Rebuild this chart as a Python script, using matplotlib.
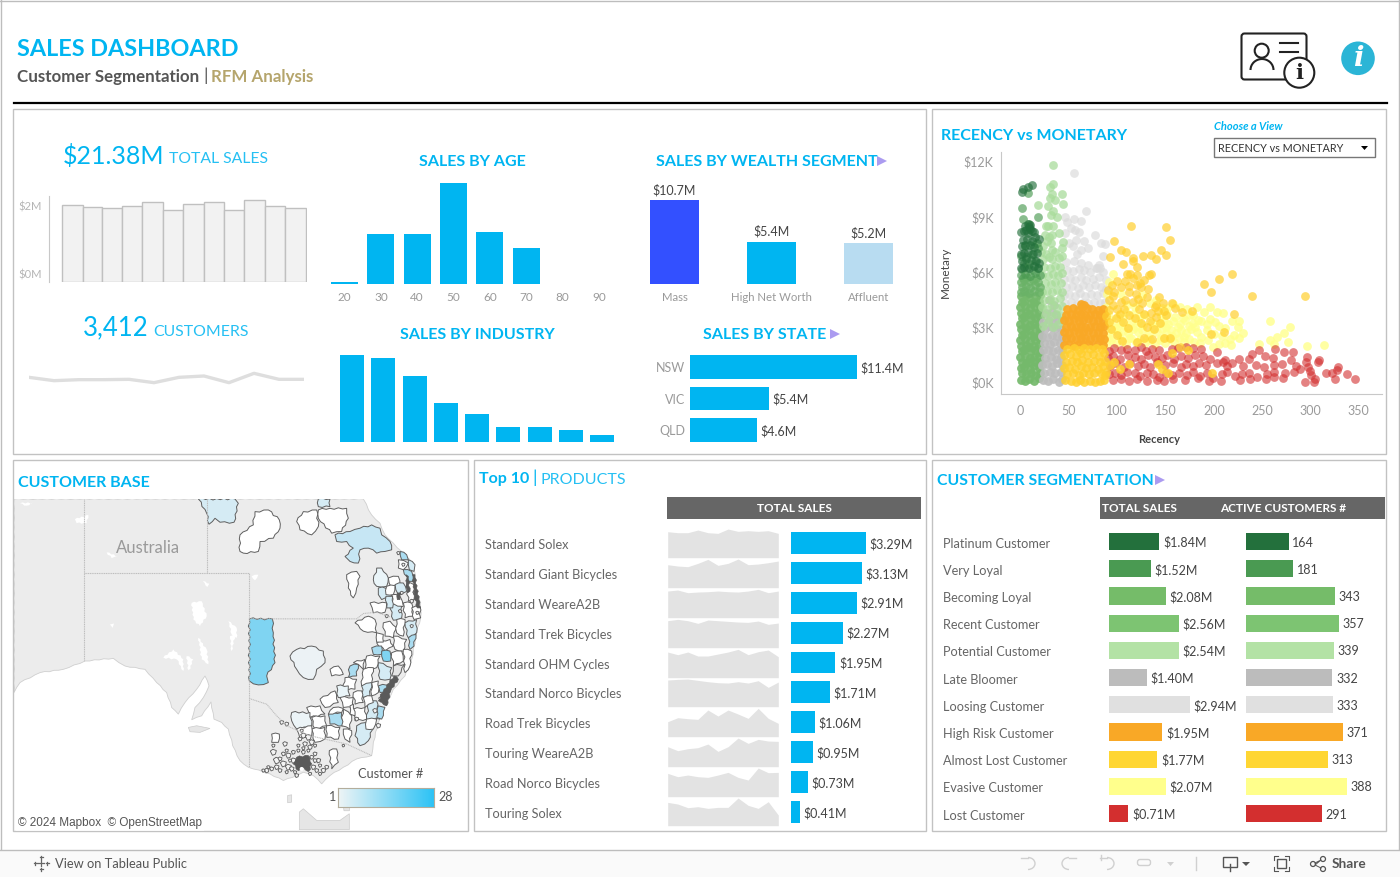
import matplotlib
matplotlib.use("Agg")
import matplotlib.pyplot as plt
import numpy as np
from matplotlib.colors import LinearSegmentedColormap
from matplotlib.patches import Rectangle, Polygon, Circle, FancyBboxPatch, Arc

plt.rcParams['font.family'] = ['Lato', 'DejaVu Sans']

W, H = 1400, 877
BLUE = '#00b5f1'
GREY_TXT = '#666666'
TICK = '#9a9a9a'

# ---------- data ----------
month_days = [31, 28, 31, 30, 31, 30, 31, 31, 30, 31, 30, 31]
month_sales = [1.79, 1.74, 1.72, 1.77, 1.86, 1.67, 1.81, 1.86, 1.67, 1.91, 1.77, 1.72]
month_customers = [288, 278, 281, 281, 282, 272, 288, 292, 272, 300, 282, 282]

ages = [20, 30, 40, 50, 60, 70, 80, 90]
age_sales = [0.15, 3.67, 3.67, 7.42, 3.82, 2.65, 0, 0]

industry_sales = [5.27, 5.09, 4.0, 2.36, 1.7, 0.91, 0.91, 0.73, 0.42]

wealth = ['Mass', 'High Net Worth', 'Affluent']
wealth_sales = [10.7, 5.4, 5.2]
wealth_colors = ['#3350ff', BLUE, '#b8dcf1']

states = ['NSW', 'VIC', 'QLD']
state_sales = [11.4, 5.4, 4.6]

products = ['Standard Solex', 'Standard Giant Bicycles', 'Standard WeareA2B', 'Standard Trek Bicycles',
            'Standard OHM Cycles', 'Standard Norco Bicycles', 'Road Trek Bicycles', 'Touring WeareA2B',
            'Road Norco Bicycles', 'Touring Solex']
product_sales = [3.29, 3.13, 2.91, 2.27, 1.95, 1.71, 1.06, 0.95, 0.73, 0.41]
# monthly shape of each product, read as height inside its row
product_trend = [
    [78, 75, 75, 83, 75, 73, 86, 79, 81, 79, 81, 73],
    [69, 65, 63, 73, 85, 67, 73, 86, 69, 71, 75, 80],
    [80, 83, 75, 77, 78, 80, 78, 77, 80, 85, 75, 80],
    [81, 85, 81, 73, 83, 81, 79, 77, 76, 80, 70, 74],
    [77, 69, 77, 65, 65, 71, 77, 85, 69, 78, 83, 63],
    [80, 82, 83, 79, 75, 72, 71, 75, 71, 78, 58, 74],
    [45, 57, 54, 52, 80, 62, 80, 68, 55, 85, 55, 40],
    [60, 48, 54, 57, 68, 46, 60, 86, 70, 82, 77, 76],
    [70, 60, 65, 60, 58, 65, 73, 58, 50, 86, 72, 73],
    [70, 65, 54, 57, 52, 55, 55, 83, 61, 52, 72, 32],
]

segments = ['Platinum Customer', 'Very Loyal', 'Becoming Loyal', 'Recent Customer', 'Potential Customer',
            'Late Bloomer', 'Loosing Customer', 'High Risk Customer', 'Almost Lost Customer',
            'Evasive Customer', 'Lost Customer']
segment_sales = [1.84, 1.52, 2.08, 2.56, 2.54, 1.40, 2.94, 1.95, 1.77, 2.07, 0.71]
segment_customers = [164, 181, 343, 357, 339, 332, 333, 371, 313, 388, 291]
segment_colors = ['#23703c', '#4a9a52', '#75bc69', '#7dc472', '#b3e2a5', '#bcbcbc', '#e0e0e0',
                  '#f9a826', '#ffd633', '#ffff8c', '#d32f2f']

# recency, monetary ($K)
recent_pts = [(0,.15),(5,.1),(9,.2),(14,.1),(19,.25),(1,.5),(6,.45),(11,.55),(15,.4),(20,.5),
              (0,.8),(4,.85),(10,.75),(14,.9),(19,.8),(1,1.1),(6,1.05),(9,1.15),(15,1.1),(20,1.15),
              (-1,1.4),(5,1.45),(10,1.35),(14,1.4),(19,1.45),(1,1.7),(4,1.75),(11,1.7),(15,1.75),(20,1.65),
              (0,2.0),(6,2.05),(9,1.95),(14,2.0),(19,2.05),(-1,2.3),(5,2.35),(10,2.25),(15,2.3),(20,2.35),
              (1,2.6),(4,2.65),(11,2.6),(14,2.55),(19,2.65),(0,2.9),(6,2.95),(9,2.85),(15,2.95),(20,2.9),
              (-1,3.2),(5,3.25),(10,3.15),(14,3.2),(19,3.25),(1,3.5),(4,3.55),(11,3.45),(15,3.5),(20,3.55),
              (0,3.8),(6,3.85),(9,3.75),(14,3.8),(19,3.85),(-1,4.1),(5,4.15),(10,4.05),(15,4.1),(20,4.15),
              (1,4.4),(4,4.45),(11,4.35),(14,4.4),(19,4.45),(0,4.7),(6,4.75),(9,4.65),(15,4.7),(20,4.75)]
becoming_pts = [(0,4.9),(4,5.0),(9,4.85),(14,5.0),(19,4.95),(1,5.2),(6,5.25),(10,5.15),(15,5.3),(20,5.2),
                (0,5.45),(4,5.55),(9,5.5),(13,5.6),(18,5.45),(2,5.7),(7,5.75),(16,5.7)]
very_loyal_pts = [(0,5.85),(5,5.9),(10,5.8),(15,5.95),(20,5.85),(1,6.15),(7,6.2),(13,6.1),(18,6.25),
                  (3,6.5),(9,6.45),(15,6.6),(0,6.9),(6,6.85),(12,7.0),(18,7.3),(5,7.4),(13,7.5),(17,7.6),
                  (1,9.5),(8,10.3),(2,8.9),(18,9.0),(9,8.6)]
platinum_pts = [(0,6.2),(4,6.3),(9,6.25),(14,6.35),(18,6.2),(1,6.6),(6,6.7),(11,6.65),(16,6.6),(19,6.5),
                (0,7.0),(3,7.05),(8,7.1),(13,7.0),(17,7.05),(1,7.4),(5,7.5),(10,7.45),(14,7.35),
                (2,7.75),(7,7.8),(12,7.7),(15,7.9),(19,7.8),(0,8.2),(3,8.25),(6,8.3),(8,8.15),(10,8.35),
                (12,8.25),(14,8.2),(5,8.5),(8,8.6),(9,8.45),(10,8.55),(2,10.5),(1,10.35),(8,10.6),(12,10.75)]
potential_pts = [(23,3.1),(28,3.3),(34,3.05),(39,3.2),(43,3.4),(25,3.7),(31,3.6),(37,3.75),(42,3.65),
                 (22,4.1),(27,4.0),(33,4.2),(38,4.05),(43,4.15),(24,4.5),(30,4.55),(35,4.45),(41,4.6),
                 (22,4.95),(27,5.0),(33,4.9),(38,5.05),(43,4.95),(25,5.4),(31,5.35),(36,5.45),(42,5.4),
                 (22,5.85),(28,5.8),(34,5.9),(39,5.85),(43,5.95),(24,6.3),(30,6.25),(36,6.35),(41,6.3),
                 (23,6.7),(29,6.8),(33,6.7),(40,6.75),(43,6.9),(21,7.1),(26,7.0),(32,7.2),(36,7.1),(43,7.3),
                 (23,7.4),(27,7.7),(31,7.6),(44,7.65),(25,8.0),(29,7.9),(40,8.1),(26,8.5),(28,8.5),(34,8.5),
                 (31,9.1),(34,9.3),(28,9.6),(44,9.7),(18,9.65),(36,9.9),(30,10.0),(43,10.25),(33,10.25),
                 (34,10.8),(30,10.6),(34,11.8),(38,9.0),(32,8.0)]
late_pts = [(23,.15),(28,.1),(34,.2),(40,.05),(43,.2),(24,.5),(30,.6),(36,.55),(42,.6),(22,.95),(27,1.0),
            (33,.9),(38,1.05),(43,.95),(25,1.35),(31,1.4),(37,1.3),(42,1.4),(23,1.75),(28,1.8),(34,1.7),
            (39,1.8),(43,1.75),(24,2.15),(30,2.1),(35,2.2),(41,2.15),(22,2.55),(27,2.5),(33,2.6),(38,2.55),
            (43,2.5),(25,2.9),(31,3.0),(37,2.95),(42,2.9),(23,3.3),(29,3.4),(34,3.25),(39,3.4),
            (26,3.8),(32,3.85),(37,3.7),(35,4.2),(29,4.5)]
loosing_pts = [(46,4.3),(52,4.4),(58,4.25),(64,4.35),(70,4.3),(76,4.4),(82,4.3),(87,4.4),(45,4.75),(50,4.8),
               (56,4.7),(61,4.85),(67,4.7),(73,4.8),(79,4.75),(85,4.85),(47,5.2),(53,5.25),(59,5.15),
               (65,5.3),(71,5.2),(77,5.3),(83,5.2),(88,5.1),(45,5.65),(51,5.7),(56,5.6),(62,5.75),(68,5.6),
               (75,5.65),(81,5.75),(48,6.1),(54,6.05),(60,6.15),(66,6.1),(72,6.0),(79,6.2),(85,6.0),(88,5.6),
               (47,6.55),(55,6.6),(63,6.5),(70,6.4),(78,6.2),(82,6.2),(58,7.0),(62,7.2),(54,7.4),(70,7.3),
               (50,7.6),(57,7.75),(66,7.7),(56,8.3),(46,8.1),(52,8.4),(60,8.2),(48,8.7),(55,8.9),(62,8.8),
               (46,9.0),(68,9.3),(77,8.0),(83,7.6),(87,7.55),(85,6.9),(81,6.4),(55,11.4)]
high_risk_pts = [(45,2.05),(50,2.1),(55,2.0),(60,2.1),(65,2.05),(70,2.1),(75,2.0),(80,2.1),(85,2.05),
                 (47,2.4),(52,2.45),(57,2.35),(62,2.45),(67,2.4),(72,2.35),(77,2.45),(82,2.4),(86,2.35),
                 (45,2.75),(50,2.7),(55,2.8),(60,2.7),(65,2.75),(70,2.8),(75,2.7),(80,2.75),(85,2.7),
                 (47,3.05),(52,3.1),(57,3.0),(62,3.1),(67,3.05),(72,3.0),(77,3.1),(82,3.05),(86,3.1),
                 (45,3.4),(50,3.35),(55,3.45),(60,3.35),(65,3.4),(70,3.45),(75,3.35),(80,3.4),(85,3.35),
                 (47,3.7),(52,3.75),(57,3.65),(62,3.75),(67,3.7),(72,3.65),(77,3.75),(82,3.7),(86,3.75),
                 (48,4.0),(54,4.05),(59,3.95),(64,4.1),(69,4.05),(74,4.0),(80,3.95),(85,4.0),(62,4.25),(66,4.2)]
almost_pts = [(46,.15),(52,.1),(57,.05),(61,.15),(66,.05),(72,.1),(77,.05),(82,.1),(86,.15),(48,.45),(54,.5),
              (60,.4),(65,.55),(71,.45),(76,.5),(83,.55),(87,.4),(45,.8),(50,.85),(56,.75),(62,.9),(68,.8),
              (74,.85),(80,.75),(85,.9),(47,1.15),(53,1.2),(58,1.1),(64,1.25),(70,1.15),(76,1.2),(82,1.1),
              (87,1.2),(45,1.5),(51,1.55),(57,1.45),(63,1.6),(69,1.5),(75,1.55),(81,1.45),(86,1.6),
              (48,1.85),(55,1.9),(60,1.8),(66,1.9),(72,1.85),(78,1.9),(84,1.85),(93,.95),(97,1.1),(103,.75),
              (112,1.0),(142,1.0),(146,.75),(153,.5),(157,1.6),(173,1.75),(198,.5),(88,.6)]
high_amber_pts = [(92,3.95),(96,4.2),(100,4.0),(91,4.5),(96,4.7),(90,5.05),(104,5.2),(112,5.25),(108,5.5),(116,5.7),
                  (120,5.3),(125,5.2),(128,5.55),(113,5.9),(106,6.45),(116,6.6),(120,6.3),(116,6.75),
                  (93,6.8),(104,7.2),(109,7.1),(97,7.7),(127,6.9),(135,6.95),(140,6.7),(145,7.2),(150,6.95),
                  (155,7.75),(114,8.5),(150,8.45),(135,5.9),(133,5.85),(124,5.4),(119,4.8),(126,4.3),(131,4.65),
                  (139,4.1),(135,3.8),(142,3.9),(148,3.9),(106,3.3),(99,3.5),(94,2.9),(107,4.0),(112,3.65),
                  (118,3.5),(125,3.25),(131,3.0),(140,3.55),(138,2.9),(150,3.7),(157,4.35),(160,4.05),(167,3.85),
                  (177,3.9),(190,5.35),(197,4.95),(205,5.65),(219,5.9),(221,3.75),(240,4.7),(294,4.7),
                  (197,2.65),(211,2.75),(120,2.2),(128,2.4),(88,3.6),(97,4.9),(103,3.75),
                  (108,4.5),(112,4.9),(104,4.4),(116,4.4),(122,4.55),(110,5.9),(120,5.85),(100,5.5),(95,5.3),
                  (128,3.75),(123,4.0),(134,3.35),(144,3.25),(147,4.35),(143,4.65),(132,5.1),(92,3.3),(100,2.6),
                  (111,2.95),(105,2.25),(136,2.35),(148,2.45),(155,2.4),(165,1.95),(140,4.2)]
evasive_pts = [(89,2.1),(94,2.3),(99,2.15),(104,2.35),(109,2.1),(114,2.4),(119,2.2),(124,2.35),(129,2.15),(134,2.3),
               (139,2.1),(144,2.3),(149,2.15),(154,2.35),(159,2.2),(164,2.4),(169,2.2),(174,2.35),(179,2.2),
               (91,2.7),(96,2.85),(101,2.65),(106,2.8),(111,2.7),(116,2.9),(121,2.75),(126,2.85),(133,2.65),
               (141,2.75),(146,2.9),(151,2.7),(156,2.85),(161,2.7),(166,2.85),(171,2.7),(176,2.9),(183,2.75),
               (89,3.2),(94,3.4),(103,3.25),(108,3.1),(114,3.3),(121,3.35),(127,3.15),(136,3.3),(143,3.2),
               (148,3.35),(153,3.2),(158,3.35),(165,3.2),(170,3.4),(178,3.25),(187,3.35),(193,3.2),(201,3.3),
               (90,3.75),(101,3.6),(109,3.85),(116,3.75),(129,3.7),(145,3.6),(152,3.75),(160,3.55),(168,3.5),
               (175,3.7),(184,3.4),(196,3.45),(205,3.1),(212,2.95),(219,3.35),(226,3.35),(199,1.95),
               (158,4.25),(165,4.1),(196,4.1),(203,3.85),(209,3.8),(183,4.1),(92,5.45),(96,5.9),(140,4.5),
               (205,2.1),(212,2.15),(217,2.35),(218,2.05),(226,2.4),(247,2.1),(258,2.3),(262,2.1),(265,2.5),
               (279,3.05),(273,2.7),(277,2.2),(296,2.0),(314,2.05),(258,3.35),(221,2.6),(230,2.7),(225,3.05),
               (92,2.45),(98,3.0),(106,3.5),(112,2.4),(118,3.05),(124,3.6),(131,2.45),(137,2.95),(145,2.45),
               (151,3.05),(157,2.55),(163,3.0),(169,2.5),(174,3.1),(181,3.0),(187,2.5),(193,2.85),(152,4.05),
               (146,4.05),(172,4.0),(178,3.65),(190,3.85),(104,4.8),(110,4.2),(118,4.1),(134,4.3),(126,4.75),
               (88,4.1),(89,4.8),(100,3.0),(194,2.3),(186,2.15),(200,2.65),(208,2.55)]
lost_pts = [(92,1.7),(97,1.9),(104,1.75),(110,1.85),(118,1.8),(125,1.95),(130,1.7),(136,1.85),(143,1.8),(157,1.85),
            (163,1.9),(171,1.95),(178,1.9),(187,1.85),(90,1.35),(96,1.45),(103,1.3),(111,1.5),(118,1.4),
            (125,1.3),(132,1.5),(139,1.4),(146,1.35),(152,1.5),(159,1.3),(166,1.45),(173,1.35),(181,1.5),
            (189,1.45),(196,1.3),(203,1.65),(212,1.25),(226,1.3),(236,1.3),(240,1.55),(247,1.75),(253,1.45),
            (261,1.35),(263,1.85),(273,1.65),(280,1.25),(282,1.65),(296,1.4),(309,1.25),(93,.9),(99,1.05),
            (107,.85),(113,1.05),(121,.9),(128,1.0),(134,.85),(141,1.1),(149,.95),(158,1.05),(166,.85),
            (171,1.0),(178,.9),(185,1.05),(192,.95),(203,1.05),(209,1.15),(214,.9),(219,1.05),(230,.9),
            (244,.95),(252,.85),(262,.95),(271,1.0),(285,.9),(295,1.1),(308,1.15),(91,.45),(98,.55),(104,.4),
            (110,.6),(118,.5),(124,.35),(131,.55),(137,.45),(143,.3),(150,.55),(157,.4),(164,.55),(172,.4),
            (178,.6),(186,.35),(193,.5),(199,.25),(208,.45),(214,.6),(222,.35),(229,.45),(236,.55),(245,.3),
            (255,.45),(262,.6),(274,.5),(283,.6),(289,.75),(298,.85),(301,.4),(316,.55),(322,.55),(328,.7),
            (338,.45),(346,.2),(272,.25),(262,.3),(254,.2),(237,.2),(227,.15),(207,.1),(195,.1),(184,.25),
            (170,.15),(158,.2),(148,.1),(141,.15),(131,.1),(120,.2),(112,.1),(104,.2),(96,.15),(325,.2),
            (305,.2),(294,.05),(304,.05),(329,.85),(300,.65)]

view_ticks_x = [0, 50, 100, 150, 200, 250, 300, 350]
view_ticks_y = [0, 3, 6, 9, 12]

# map shapes, traced on a 3x crop of the panel
land = [(12,117),(1060,117),(1085,165),(1110,190),(1125,225),(1150,250),(1175,275),(1200,300),(1215,340),(1215,380),
        (1232,430),(1232,475),(1220,520),(1205,600),(1185,650),(1150,690),(1125,740),(1105,790),(1090,850),(1085,890),
        (1040,900),(1000,925),(960,950),(935,975),(910,950),(880,940),(860,950),(820,965),(780,945),(730,930),(715,925),
        (690,905),(668,860),(655,810),(635,790),(612,780),(603,728),(575,770),(545,782),(555,745),(580,715),(597,680),
        (585,650),(560,690),(525,730),(505,765),(485,745),(470,700),(440,670),(405,630),(345,620),(310,597),(225,605),
        (160,630),(90,640),(30,670),(12,700)]
islands = [[(535,805),(560,800),(600,808),(570,820),(540,818)],
           [(868,1060),(880,1050),(920,1085),(990,1085),(1018,1065),(1018,1113),(868,1113)],
           [(833,1010),(845,1008),(845,1030),(833,1032)],
           [(1000,1040),(1020,1040),(1018,1056),(1002,1056)]]
salt_lakes = [[(545,430),(575,425),(590,470),(570,500),(550,480)], [(565,535),(590,570),(595,615),(575,600)],
              [(655,485),(680,505),(680,535),(665,525)], [(660,530),(675,530),(665,575)],
              [(460,595),(490,570),(520,600),(520,635),(500,600)], [(530,590),(550,600),(535,640)],
              [(195,178),(235,165),(230,190),(200,190)], [(725,350),(745,345),(735,362)], [(300,495),(312,492),(308,505)],
              [(30,130),(70,128),(50,137)], [(290,278),(325,290),(305,295)], [(578,365),(598,372),(592,382)]]
state_borders = [[(223,117),(223,605)], [(592,117),(592,340)], [(223,340),(718,340),(718,925)],
                 [(718,478),(1040,478),(1060,462),(1100,458),(1140,472)],
                 [(718,718),(770,735),(800,770),(830,800),(900,830),(1010,855),(1085,890)]]
strong_blue = '#7fd4f2'
pale_blue = '#d5ebf4'
mid_blue = '#aadcf0'
white = '#ffffff'
regions = [
    ([(718,478),(787,478),(790,520),(795,610),(770,650),(775,670),(745,677),(718,665)], strong_blue),
    ([(565,117),(675,117),(685,130),(672,187),(630,187),(615,175),(597,193),(590,160)], pale_blue),
    ([(690,275),(690,225),(730,195),(735,155),(775,150),(808,180),(810,205),(790,235),(750,245),(745,275),(700,280)], white),
    ([(860,185),(880,155),(920,150),(925,200),(905,225),(870,210)], white),
    ([(925,150),(960,145),(1010,145),(1015,175),(995,215),(965,220),(925,175)], white),
    ([(975,225),(1020,215),(1050,205),(1085,195),(1110,205),(1115,225),(1140,245),(1145,270),(1125,275),(1100,280),
      (1075,265),(1050,270),(1045,310),(1020,305),(1005,290),(1030,265),(1010,245),(980,245)], '#c6e6f4'),
    ([(925,117),(960,117),(960,140),(925,140)], pale_blue),
    ([(1010,345),(1040,335),(1050,350),(1040,385),(1030,415),(1015,385)], white),
    ([(840,590),(860,570),(905,560),(940,575),(945,610),(920,630),(910,660),(880,655),(860,630)], '#ecf2f5'),
    ([(1100,325),(1115,325),(1135,355),(1130,380),(1100,380),(1090,360)], '#eaf5f9'),
    ([(1105,385),(1140,385),(1145,410),(1115,420),(1105,405)], pale_blue),
    ([(1135,355),(1165,350),(1170,375),(1145,385)], white),
    ([(1170,275),(1190,285),(1195,300),(1175,300)], mid_blue),
    ([(1180,330),(1205,335),(1210,365),(1195,365)], mid_blue),
    ([(1155,375),(1180,370),(1190,395),(1165,405)], pale_blue),
    ([(1145,405),(1170,410),(1180,440),(1150,445)], white),
    ([(1080,430),(1130,430),(1125,458),(1090,460)], white),
    ([(1140,435),(1175,440),(1175,475),(1150,482)], pale_blue),
    ([(1180,430),(1205,430),(1210,470),(1185,475)], white),
    ([(1205,445),(1230,440),(1232,475),(1212,480)], white),
    ([(1120,490),(1140,485),(1160,505),(1150,535),(1125,530)], white),
    ([(1035,490),(1075,470),(1095,480),(1100,520),(1060,515)], white),
    ([(1160,480),(1185,480),(1180,530),(1160,520)], white),
    ([(1185,490),(1220,480),(1220,520),(1195,535)], pale_blue),
    ([(1195,535),(1218,525),(1212,560),(1200,570)], mid_blue),
    ([(1100,550),(1140,540),(1150,560),(1125,575)], white),
    ([(1150,530),(1190,540),(1180,575),(1155,570)], white),
    ([(1085,565),(1115,560),(1115,585),(1090,585)], mid_blue),
    ([(1115,575),(1140,575),(1142,605),(1120,605)], strong_blue),
    ([(1070,590),(1110,590),(1100,625),(1065,630)], white),
    ([(1145,580),(1175,575),(1180,605),(1150,620)], white),
    ([(1180,570),(1205,575),(1200,620),(1185,640)], white),
    ([(1105,610),(1145,625),(1140,660),(1110,660)], pale_blue),
    ([(1020,620),(1045,615),(1040,650),(1015,655)], mid_blue),
    ([(960,630),(985,620),(1000,645),(965,650)], white),
    ([(1060,630),(1090,625),(1085,670),(1055,680)], white),
    ([(1005,655),(1040,660),(1035,690),(1000,690)], white),
    ([(980,680),(1015,680),(1020,710),(985,715)], '#eaf5f9'),
    ([(1055,680),(1085,670),(1080,710),(1060,715)], pale_blue),
    ([(930,720),(975,695),(985,730),(945,745)], white),
    ([(1030,700),(1055,695),(1060,730),(1035,735)], white),
    ([(990,715),(1030,715),(1030,745),(1000,745)], white),
    ([(1030,750),(1065,745),(1070,780),(1035,785)], white),
    ([(1075,730),(1100,725),(1110,780),(1070,780)], pale_blue),
    ([(1105,740),(1125,745),(1115,780),(1100,775)], mid_blue),
    ([(890,745),(930,740),(945,765),(900,775)], white),
    ([(845,760),(900,760),(905,800),(860,810),(845,785)], '#ecf4f7'),
    ([(955,765),(995,760),(1000,800),(960,795)], mid_blue),
    ([(905,775),(945,770),(950,800),(915,810)], white),
    ([(1000,750),(1025,770),(1020,810),(995,800)], white),
    ([(1040,800),(1070,790),(1090,800),(1075,845),(1050,860),(1035,830)], pale_blue),
    ([(1000,810),(1025,815),(1020,850),(1005,840)], white),
    ([(950,800),(990,805),(985,840),(950,835)], white),
    ([(905,810),(945,805),(945,840),(915,850)], white),
    ([(785,825),(808,825),(805,850),(785,850)], white),
    ([(958,875),(980,870),(985,910),(965,930)], white),
    ([(1105,680),(1145,675),(1140,700),(1110,700)], mid_blue),
    ([(1165,300),(1195,310),(1180,330),(1165,325)], white),
    ([(1195,300),(1215,315),(1212,335),(1198,330)], pale_blue),
    ([(1130,380),(1155,378),(1150,405),(1128,405)], white),
    ([(1190,370),(1212,375),(1212,420),(1195,425)], white),
    ([(1128,410),(1148,410),(1148,445),(1130,445)], pale_blue),
    ([(1100,520),(1120,525),(1120,548),(1100,548)], white),
    ([(1085,670),(1105,665),(1105,700),(1085,710)], white),
    ([(1060,715),(1085,710),(1090,730),(1065,745)], white),
    ([(1020,740),(1030,735),(1035,770),(1020,765)], white),
    ([(970,745),(1000,748),(995,760),(955,765)], white),
    ([(1070,780),(1100,780),(1090,810),(1068,810)], white),
    ([(860,810),(905,800),(905,830),(870,840)], white),
    ([(1150,620),(1185,615),(1165,650),(1145,650)], '#e4e4e4'),
    ([(1030,610),(1065,600),(1060,630),(1045,615)], white),
]
dark_strips = [[(1152,650),(1165,660),(1142,695),(1130,740),(1105,725),(1122,690)],
               [(1208,345),(1215,345),(1226,420),(1232,445),(1222,445),(1212,400)],
               [(1188,345),(1195,350),(1200,395),(1192,400)], [(1162,400),(1172,400),(1170,420),(1162,420)],
               [(860,895),(895,890),(905,915),(895,938),(880,925),(865,935),(850,915)]]
# small suburbs: centre x, centre y, size
suburbs = [(790,880,9),(800,905,10),(825,855,7),(835,890,8),(770,935,7),(785,930,6),(800,925,7),(820,915,9),(835,925,9),
           (850,905,8),(845,930,7),(925,905,7),(940,935,7),(950,925,6),(860,950,6),(880,830,8),(895,835,9),(905,850,8),
           (885,855,7),(870,840,6),(900,865,7),(815,790,6),(830,795,6),(1040,780,6),(1115,720,9),(1095,755,7),(1105,800,7),
           (910,925,7),(920,935,6),(905,895,6),(915,885,6),(930,920,5),(820,885,6),(810,900,6),(830,875,5),(850,880,6),
           (865,875,5),(880,880,6),(775,925,5),(760,935,5),(810,935,6),(830,940,5),(855,940,5),(900,945,5),(930,945,5),
           (915,905,6),(840,905,5),(865,860,5),(880,868,5),(895,875,5),(915,860,5),(875,815,5),(1000,860,4),(790,860,5),
           (1165,280,5),(1180,315,5),(1215,400,6),(1205,425,6),(1222,460,5),(1130,470,5),(1175,400,5),(1170,455,5),(1205,500,5)]
legend_range = [1, 28]
wiggle = [2.5, -3, 1.5, -2, 3, -1.5, 2, -2.5]

# ---------- layout ----------
fig = plt.figure(figsize=(W / 100, H / 100), dpi=100, facecolor='white')


def px_axes(x0, y0, x1, y1):
    # axes placed by screen pixels (y counted from the top)
    a = fig.add_axes([x0 / W, 1 - y1 / H, (x1 - x0) / W, (y1 - y0) / H])
    a.patch.set_alpha(0)
    for s in a.spines.values():
        s.set_visible(False)
    a.tick_params(length=0)
    a.set_xticks([])
    a.set_yticks([])
    return a


def rough(shape, amp=1.0, step=11):
    # break straight edges so that traced borders do not look like polygons
    out = []
    k = 0
    n = len(shape)
    for i in range(n):
        (x0, y0), (x1, y1) = shape[i], shape[(i + 1) % n]
        length = np.hypot(x1 - x0, y1 - y0)
        parts = max(1, int(length // step))
        for j in range(parts):
            t = j / parts
            off = wiggle[k % len(wiggle)] * amp if j else 0
            k += 1
            out.append((x0 + (x1 - x0) * t - (y1 - y0) / max(length, 1) * off,
                        y0 + (y1 - y0) * t + (x1 - x0) / max(length, 1) * off))
    return out


page = fig.add_axes([0, 0, 1, 1], zorder=20)
page.set_xlim(0, W)
page.set_ylim(H, 0)
page.axis('off')


def txt(x, y, s, size=9, color=GREY_TXT, weight='normal', ha='left', **kw):
    return page.text(x, y, s, fontsize=size, color=color, fontweight=weight, ha=ha, va='center', **kw)


def frame(x0, y0, x1, y1):
    page.add_patch(Rectangle((x0, y0), x1 - x0, y1 - y0, fill=False, ec='#c2c2c2', lw=1))


def arrow(x, y):
    page.add_patch(Polygon([(x, y - 5), (x + 10, y), (x, y + 5)], color='#ab9bf0', lw=0))


# page edges and tool bar
page.add_patch(Rectangle((0, 850), W, 27, fc='#fafafa', ec='none'))
page.plot([0, W], [849.5, 849.5], color='#bdbdbd', lw=1)
page.plot([0.5, 0.5], [0, 849], color='#bdbdbd', lw=1)
page.plot([0, W], [0.5, 0.5], color='#bdbdbd', lw=1)
page.plot([W - 1, W - 1], [0, 849], color='#bdbdbd', lw=1)
page.plot([13.5, 1386.5], [103, 103], color='black', lw=1.6)
frame(13, 109, 926, 454)
frame(932, 109, 1386, 454)
frame(13, 460, 468, 831)
frame(474, 460, 926, 831)
frame(932, 460, 1386, 831)

# header
txt(17, 50, 'SALES DASHBOARD', 16.8, BLUE, 'bold')
txt(17, 77, 'Customer Segmentation', 12.2, '#555555', 'bold')
txt(203, 76, '|', 13, '#555555')
txt(211, 77, 'RFM Analysis', 12.2, '#b5a56c', 'bold')

# id card and info icons
page.add_patch(FancyBboxPatch((1243, 35), 62, 43, boxstyle='round,pad=1.5,rounding_size=3', fc='white', ec='#222222', lw=1.5))
page.add_patch(Circle((1261.7, 50.7), 7, fc='white', ec='#222222', lw=1.5))
page.add_patch(Arc((1262, 70), 23, 22, theta1=180, theta2=360, ec='#222222', lw=1.5))
page.plot([1280, 1298], [43.3, 43.3], color='#222222', lw=1.5)
page.plot([1280, 1298], [51.7, 51.7], color='#222222', lw=1.5)
page.add_patch(Circle((1299.3, 72.7), 15, fc='white', ec='#222222', lw=1.5))
page.text(1299.3, 73, 'i', fontsize=15, family='DejaVu Serif', weight='bold', ha='center', va='center', color='#222222')
page.add_patch(Circle((1358, 58.3), 16.8, fc='#2bb5d6', ec='none'))
page.text(1358, 58.5, 'i', fontsize=20, family='DejaVu Serif', style='italic', weight='bold', color='white', ha='center', va='center')

# ---------- first panel ----------
txt(63, 156, '$21.38M', 18, BLUE)
txt(169, 159, 'TOTAL SALES', 11.3, BLUE, alpha=0.85)
month_ax = px_axes(49.4, 196, 306.5, 281.7)
month_starts = np.cumsum([0] + month_days[:-1])
month_ax.bar(month_starts, month_sales, width=month_days, align='edge', fc='#f2f2f2', ec='#c0c0c0', lw=1)
month_ax.set_xlim(-19.3, 366)
month_ax.set_ylim(0, 2)
month_ax.spines['left'].set_visible(True)
month_ax.spines['left'].set_color('#c8c8c8')
txt(42, 206.5, '$2M', 8, '#b5b5b5', ha='right')
txt(42, 274.5, '$0M', 8, '#b5b5b5', ha='right')

txt(83, 328, '3,412', 18.5, BLUE)
txt(153, 331.5, 'CUSTOMERS', 11.4, BLUE, alpha=0.85)
line_ax = px_axes(29, 360, 304, 400)
line_ax.plot(range(12), month_customers, color='#dedede', lw=2.4)
line_ax.set_xlim(0, 11)
line_ax.set_ylim(220, 340)

txt(472, 161.5, 'SALES BY AGE', 11.5, BLUE, 'bold', ha='center')
age_ax = px_axes(326, 180, 612, 284)
age_ax.bar(ages, age_sales, width=7.4, color=BLUE)
age_ax.set_xlim(14.9, 93.6)
age_ax.set_ylim(0, 7.65)
age_ax.set_xticks(ages)
age_ax.tick_params(axis='x', labelsize=8.5, labelcolor=TICK, pad=6)

txt(477.5, 335, 'SALES BY INDUSTRY', 11.5, BLUE, 'bold', ha='center')
ind_ax = px_axes(335, 350, 620, 442)
ind_ax.bar(range(len(industry_sales)), industry_sales, width=0.768, color=BLUE)
ind_ax.set_xlim(-0.544, 8.576)
ind_ax.set_ylim(0, 5.57)

txt(767, 161.5, 'SALES BY WEALTH SEGMENT', 11.5, BLUE, 'bold', ha='center')
arrow(877, 161)
wealth_ax = px_axes(635, 190, 905, 284)
wealth_ax.bar(range(3), wealth_sales, width=0.505, color=wealth_colors)
wealth_ax.set_xlim(-0.407, 2.376)
wealth_ax.set_ylim(0, 11.97)
wealth_ax.set_xticks(range(3), wealth)
wealth_ax.tick_params(axis='x', labelsize=8.2, labelcolor=TICK, pad=6)
for i, v in enumerate(wealth_sales):
    wealth_ax.annotate(f'${v:.1f}M', (i, v), xytext=(0, 11), textcoords='offset pixels', ha='center', va='center_baseline',
                       fontsize=9, color='#444444', annotation_clip=False)

txt(765, 335, 'SALES BY STATE', 11.5, BLUE, 'bold', ha='center')
arrow(830, 334)
state_ax = px_axes(690, 350, 905, 446)
state_ax.barh(range(3), state_sales, height=0.76, color=BLUE)
state_ax.set_xlim(0, 14.68)
state_ax.set_ylim(2.508, -0.54)
state_ax.set_yticks(range(3), states)
state_ax.tick_params(axis='y', labelsize=9, labelcolor=TICK, pad=3.5)
for i, v in enumerate(state_sales):
    state_ax.annotate(f'${v:.1f}M', (v, i), xytext=(3.5, -1), textcoords='offset pixels', va='center', fontsize=9,
                      color='#444444', annotation_clip=False)

# ---------- recency vs monetary ----------
txt(941, 136, 'RECENCY vs MONETARY', 11.5, BLUE, 'bold')
txt(1214, 126.5, 'Choose a View', 8, BLUE, 'bold', style='italic')
page.add_patch(Rectangle((1214, 138), 160.5, 19, fc='white', ec='#777777', lw=1))
txt(1218, 148.5, 'RECENCY vs MONETARY', 7.8, '#333333')
page.add_patch(Polygon([(1361, 146), (1368, 146), (1364.5, 150)], color='black', lw=0))

sc_ax = px_axes(1001.3, 151.7, 1381.7, 394.3)
for pts, col, a in [(recent_pts, '#74b96b', .92), (late_pts, '#bdbdbd', .92), (loosing_pts, '#dcdcdc', .7),
                    (potential_pts, '#a9dc9b', .75), (becoming_pts, '#6ab267', .8), (very_loyal_pts, '#4a9a52', .65),
                    (platinum_pts, '#23703c', .65), (evasive_pts, '#ffff8c', .8), (lost_pts, '#d32f2f', .6),
                    (high_risk_pts, '#f9a826', .95), (almost_pts, '#ffcf2e', .85), (high_amber_pts, '#ffcf2e', .7)]:
    xs, ys = zip(*pts)
    sc_ax.scatter(xs, ys, s=40, color=col, alpha=a, lw=0, clip_on=False)
sc_ax.set_xlim(-20, 373.8)
sc_ax.set_ylim(-0.63, 12.54)
sc_ax.spines['left'].set_visible(True)
sc_ax.spines['bottom'].set_visible(True)
sc_ax.spines['left'].set_color('#c8c8c8')
sc_ax.spines['bottom'].set_color('#c8c8c8')
sc_ax.set_xticks(view_ticks_x)
sc_ax.set_yticks(view_ticks_y, [f'${v}K' for v in view_ticks_y])
sc_ax.tick_params(labelsize=9, labelcolor=TICK)
sc_ax.tick_params(axis='x', pad=8)
sc_ax.tick_params(axis='y', pad=5.5)
txt(1159, 439.5, 'Recency', 8, '#444444', 'bold', ha='center')
page.text(945, 272, 'Monetary', fontsize=8.5, color='#444444', rotation=90, ha='center', va='center')

# ---------- map ----------
txt(18, 483, 'CUSTOMER BASE', 11.5, BLUE, 'bold')
map_ax = px_axes(14, 499, 468, 831)
map_ax.set_xlim(12, 1374)
map_ax.set_ylim(1117, 117)
map_ax.add_patch(Polygon(rough(land, 0.5, 14), fc='#ececec', ec='#cfcfcf', lw=0.6))
for shape in islands:
    map_ax.add_patch(Polygon(shape, fc='#e6e6e6', ec='#cccccc', lw=0.5))
for shape in salt_lakes:
    map_ax.add_patch(Polygon(rough(shape, 0.8, 7), fc='white', ec='none'))
for border in state_borders:
    bx, by = zip(*border)
    map_ax.plot(bx, by, color='#bdbdbd', lw=0.8, ls=(0, (1, 0.6)))
for shape, fill in regions:
    map_ax.add_patch(Polygon(rough(shape), fc=fill, ec='#5e5e5e', lw=0.7))
for sx, sy, r in suburbs:
    map_ax.add_patch(Polygon([(sx - r, sy - r * .4), (sx - r * .2, sy - r), (sx + r, sy - r * .6), (sx + r * .7, sy + r * .6),
                              (sx - r * .3, sy + r)], fc='#f4f4f4', ec='#5e5e5e', lw=0.65))
for shape in dark_strips:
    map_ax.add_patch(Polygon(rough(shape, 1, 8), fc='#5a5a5a', ec='#5a5a5a', lw=0.5))
map_ax.add_patch(Circle((875, 930), 6, fc='white', ec='none'))
map_ax.text(413, 265, 'Australia', fontsize=12, color='#9a9a9a', ha='center', va='center')

cmap = LinearSegmentedColormap.from_list('cust', ['#eef4f6', '#2dc3f5'])
bar_ax = px_axes(338, 788, 434, 807)
bar_ax.imshow(np.linspace(legend_range[0], legend_range[1], 96).reshape(1, -1), cmap=cmap, aspect='auto')
for s in bar_ax.spines.values():
    s.set_visible(True)
    s.set_color('#b3ad9c')
txt(391, 774.5, 'Customer #', 9.2, '#555555', ha='center')
txt(336, 797, str(legend_range[0]), 9, '#555555', ha='right')
txt(438, 797, str(legend_range[1]), 9, '#555555')
page.text(18, 823, '© 2024 Mapbox  © OpenStreetMap', fontsize=8.5, family='Liberation Sans', color='#555555', va='center',
          bbox=dict(fc='white', ec='none', alpha=0.6, pad=1.5))

# ---------- top 10 products ----------
txt(479, 479.5, 'Top 10', 11.5, BLUE, 'bold')
txt(532, 478, '|', 13, BLUE)
txt(541, 479.5, 'PRODUCTS', 11.5, BLUE, alpha=0.85)
page.add_patch(Rectangle((667, 497), 254, 22, fc='#666666', ec='none'))
txt(794, 509, 'TOTAL SALES', 8.5, 'white', 'bold', ha='center')
prod_y = np.array([543, 573, 603, 633, 663, 692, 722, 752, 782, 812])
spark_bottom = prod_y + np.array([14.7, 14.7, 14.7, 14.7, 14.7, 14.7, 14.7, 14.7, 14.7, 13.7])
for name, y, trend, b in zip(products, prod_y, product_trend, spark_bottom):
    txt(485, y + 2, name, 9.2)
    sp = px_axes(667.7, b - 30, 778.3, b)
    sp.fill_between(range(12), trend, color='#e3e3e3', lw=0)
    sp.set_xlim(0, 11)
    sp.set_ylim(0, 90)
prod_ax = px_axes(791, 527, 921, 827)
prod_ax.barh(range(10), product_sales, height=0.735, color=BLUE)
prod_ax.set_xlim(0, 5.7)
prod_ax.set_ylim(9.5, -0.53)
for i, v in enumerate(product_sales):
    prod_ax.annotate(f'${v:.2f}M', (v, i), xytext=(3.5, -1), textcoords='offset pixels', va='center', fontsize=9,
                     color='#444444', annotation_clip=False)

# ---------- customer segmentation ----------
txt(937, 481, 'CUSTOMER SEGMENTATION', 11.4, BLUE, 'bold')
arrow(1155, 480)
page.add_patch(Rectangle((1100, 497), 285, 22, fc='#666666', ec='none'))
txt(1102, 509, 'TOTAL SALES', 8.5, 'white', 'bold')
txt(1220, 509, 'ACTIVE CUSTOMERS #', 8.5, 'white', 'bold')
for i, name in enumerate(segments):
    txt(943, 543.5 + i * 27.2, name, 9.2)
sales_ax = px_axes(1109, 528, 1240, 827)
sales_ax.barh(range(11), segment_sales, height=0.63, color=segment_colors)
sales_ax.set_xlim(0, 131 / 27.4)
sales_ax.set_ylim(10.49, -0.5)
cust_ax = px_axes(1246, 528, 1380, 827)
cust_ax.barh(range(11), segment_customers, height=0.63, color=segment_colors)
cust_ax.set_xlim(0, 134 / 0.2605)
cust_ax.set_ylim(10.49, -0.5)
for i, (s, c) in enumerate(zip(segment_sales, segment_customers)):
    sales_ax.annotate(f'${s:.2f}M', (s, i), xytext=(3.5, -1), textcoords='offset pixels', va='center', fontsize=9,
                      color='#444444', annotation_clip=False)
    cust_ax.annotate(str(c), (c, i), xytext=(3.5, -1), textcoords='offset pixels', va='center', fontsize=9,
                     color='#444444', annotation_clip=False)

# ---------- tool bar ----------
for dx, dy, ln in [(0, 0, 6), (-6, 0, 3), (6, 0, 3), (0, -6, 3), (0, 6, 3)]:
    page.plot([41 + dx - ln / 2, 41 + dx + ln / 2], [863 + dy, 863 + dy], color='#666666', lw=0.9)
    page.plot([41 + dx, 41 + dx], [863 + dy - ln / 2, 863 + dy + ln / 2], color='#666666', lw=0.9)
txt(55, 863.5, 'View on Tableau Public', 9.3, '#555555')
disabled = '#d0d0d0'
page.add_patch(Arc((1028, 863.5), 14, 12, theta1=-90, theta2=90, ec=disabled, lw=1))
page.plot([1021, 1028], [857.5, 857.5], color=disabled, lw=1)
page.add_patch(Arc((1069, 863.5), 14, 12, theta1=90, theta2=270, ec=disabled, lw=1))
page.plot([1069, 1076], [857.5, 857.5], color=disabled, lw=1)
page.add_patch(Arc((1107, 863.5), 14, 12, theta1=-90, theta2=90, ec=disabled, lw=1))
page.plot([1100, 1107], [857.5, 857.5], color=disabled, lw=1)
page.plot([1101, 1101], [855, 860], color=disabled, lw=1)
page.add_patch(FancyBboxPatch((1138, 860), 12, 5, boxstyle='round,pad=0.5,rounding_size=2.5', fc='none', ec=disabled, lw=1))
page.add_patch(Polygon([(1167, 862), (1174, 862), (1170.5, 866)], color=disabled, lw=0))
page.plot([1195.5, 1195.5], [857, 870], color=disabled, lw=1)
page.add_patch(Rectangle((1222.5, 857), 14, 10, fc='none', ec='#555555', lw=1))
page.plot([1229.5, 1229.5], [864, 871], color='#555555', lw=1)
page.add_patch(Polygon([(1242, 862), (1250, 862), (1246, 866)], color='#555555', lw=0))
page.add_patch(Rectangle((1277, 859), 9, 9, fc='none', ec='#555555', lw=1))
for cx, cy, sx, sy in [(1274, 856, 1, 1), (1289, 856, -1, 1), (1274, 871, 1, -1), (1289, 871, -1, -1)]:
    page.plot([cx + 4 * sx, cx, cx], [cy, cy, cy + 4 * sy], color='#555555', lw=0.8)
for cx, cy in [(1313, 864), (1323, 859), (1323, 869)]:
    page.add_patch(Circle((cx, cy), 2.5, fc='none', ec='#555555', lw=0.9))
page.plot([1315, 1321, 1315, 1321], [863, 860, 865, 868], color='#555555', lw=0.7)
txt(1332, 864, 'Share', 9.8, '#555555', 'bold')

fig.savefig('out.png', dpi=100)
